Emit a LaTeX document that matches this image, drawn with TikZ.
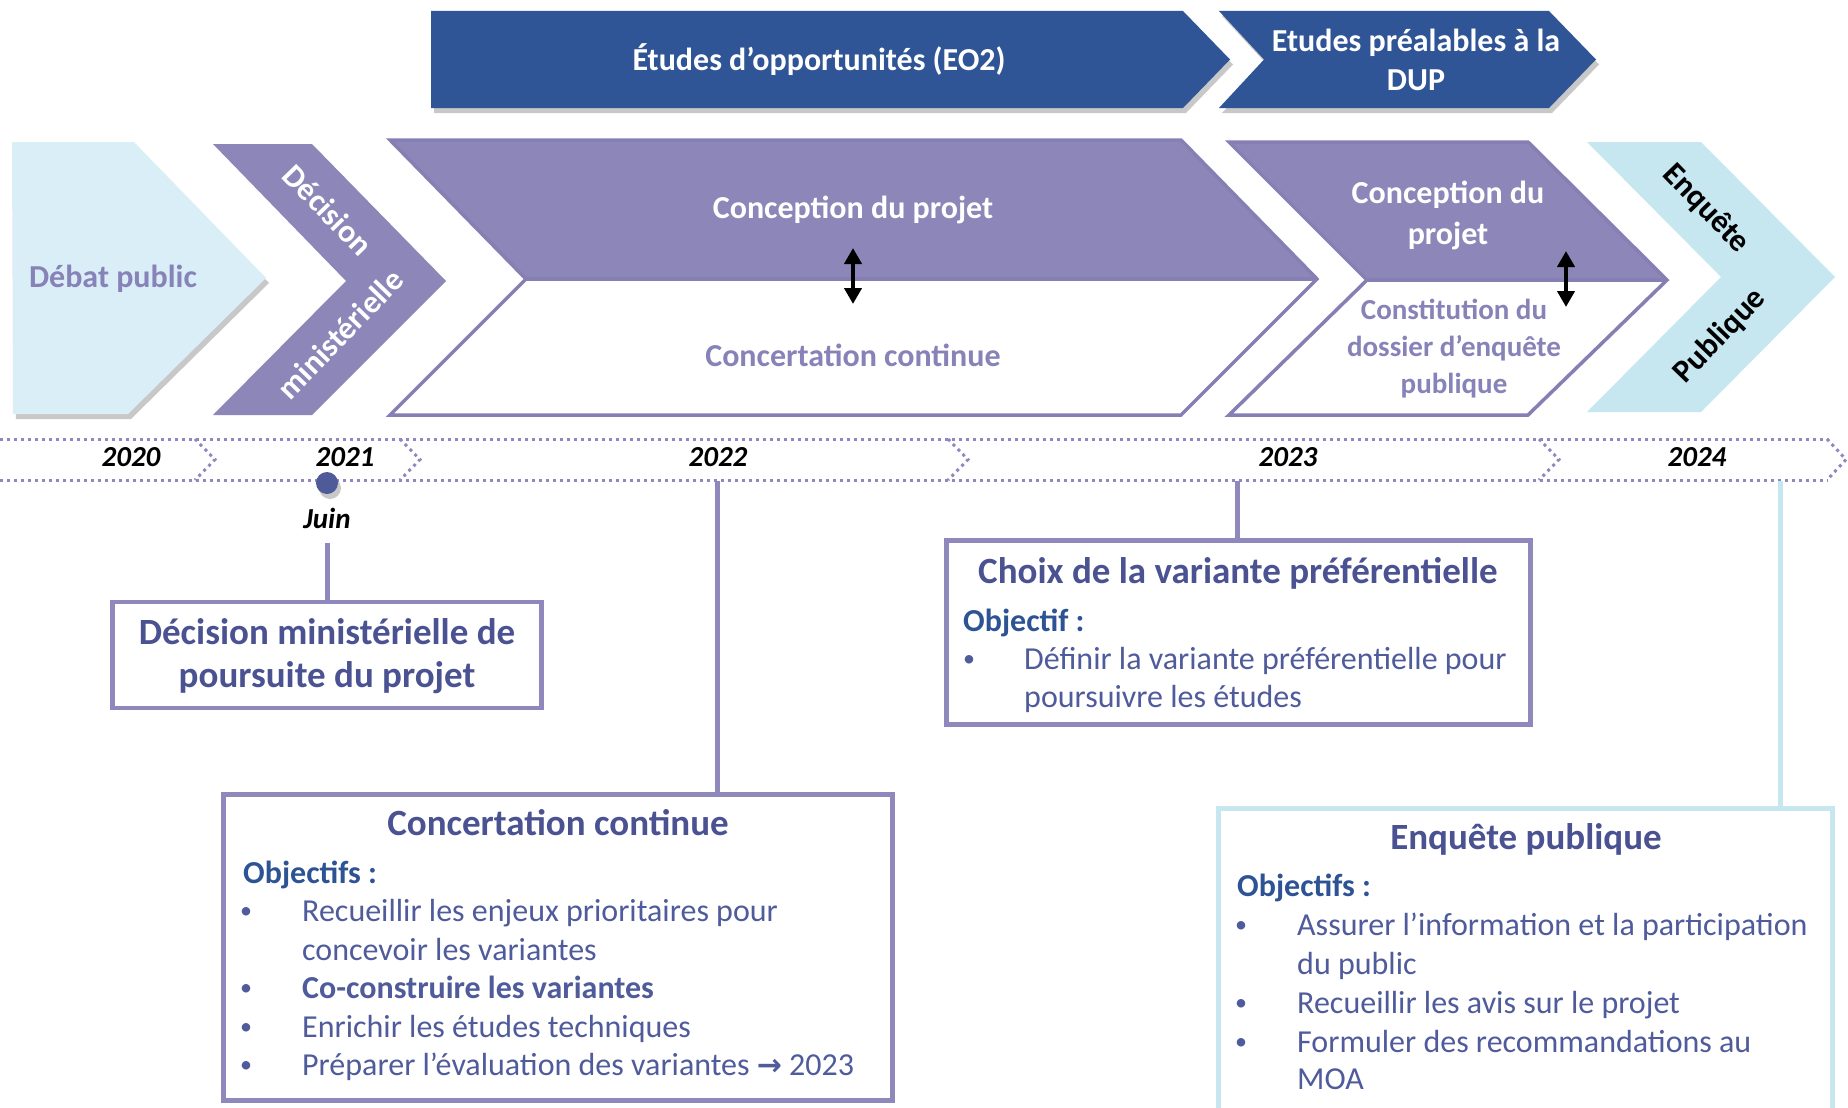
\documentclass[tikz,border=0pt]{standalone}
\usepackage{fontspec}
\setmainfont{Carlito}
\newfontfamily\arrowfont{DejaVu Sans}
\usetikzlibrary{arrows.meta,shadows}

\definecolor{barblue}{HTML}{2F5597}
\definecolor{chevpurple}{HTML}{8D86B9}
\definecolor{chevline}{HTML}{857FB4}
\definecolor{purpletext}{HTML}{8782B8}
\definecolor{debatblue}{HTML}{DAEEF8}
\definecolor{enqblue}{HTML}{C6E7F0}
\definecolor{dotpurple}{HTML}{8F88C0}
\definecolor{boxpurple}{HTML}{8F88BD}
\definecolor{titleblue}{HTML}{4A5292}
\definecolor{bodyblue}{HTML}{4F5B9B}
\definecolor{objblue}{HTML}{2E5395}
\definecolor{dotblue}{HTML}{4F5B98}

\tikzset{
  softshadow/.style={drop shadow={shadow xshift=3pt, shadow yshift=-5pt, opacity=.3, fill=black!70}},
  bartext/.style={text=white, font=\fontsize{32}{39}\selectfont\bfseries, align=center, inner sep=0pt},
  chevtext/.style={font=\fontsize{32}{41}\selectfont\bfseries, align=center, inner sep=0pt},
  smallchevtext/.style={font=\fontsize{29}{37}\selectfont\bfseries, align=center, inner sep=0pt},
  turntext/.style={font=\fontsize{32}{38}\selectfont\bfseries, inner sep=0pt},
  yeartext/.style={font=\fontsize{29}{35}\selectfont\bfseries\itshape, inner sep=0pt},
  dotline/.style={draw=dotpurple, line width=3pt, dash pattern=on 3pt off 4pt},
  updown/.style={line width=4pt, {Triangle[width=17pt,length=16pt]}-{Triangle[width=17pt,length=16pt]}},
  infobox/.style={draw=boxpurple, line width=4.5pt, rectangle, inner sep=0pt},
  link/.style={draw=boxpurple, line width=5pt},
  boxtitle/.style={font=\fontsize{37}{44}\selectfont\bfseries, text=titleblue, anchor=base, inner sep=0pt},
  objlabel/.style={font=\fontsize{32}{39}\selectfont\bfseries, text=objblue, anchor=base west, inner sep=0pt},
  bulletmark/.style={font=\fontsize{24}{30}\selectfont, text=bodyblue, anchor=base, inner sep=0pt, yshift=3pt},
  itemtext/.style={font=\fontsize{32}{39}\selectfont, text=bodyblue, anchor=base west, inner sep=0pt}
}

\begin{document}
\begin{tikzpicture}[x=1pt,y=-1pt]
		%%%%% START %%%%%
		\useasboundingbox[fill=white] (0,0) rectangle (1848,1108);
		
		% bandeaux du haut
		\fill[barblue, softshadow] (431,11) -- (1183,11) -- (1230,59.5) -- (1183,108) -- (431,108) -- cycle;
		\fill[barblue, softshadow] (1219,11) -- (1549,11) -- (1596,59.5) -- (1549,108) -- (1219,108) -- (1264,59.5) -- cycle;
		\node[bartext] (eo2) at (819,60) {Études d’opportunités (EO2)};
		\node[bartext] (dup) at (1416,60) {Etudes préalables à la\\DUP};
		
		% chevrons des phases
		\fill[debatblue, softshadow] (12,142) -- (134,142) -- (266,278) -- (128,414) -- (13,414) -- cycle;
		\node[chevtext, text=purpletext] (debat) at (113,279) {Débat public};
		
		\fill[chevpurple] (213,144) -- (312,144) -- (446,281) -- (312,415) -- (213,415) -- (346,281) -- cycle;
		\node[turntext, text=white, rotate=-46] (decision) at (328,210) {Décision};
		\node[turntext, text=white, rotate=46] (ministerielle) at (340,334) {ministérielle};
		
		\fill[chevpurple] (390,140) -- (1181,140) -- (1317,279) -- (526,279) -- cycle;
		\draw[chevline, line width=3.5pt] (390,140) -- (1181,140) -- (1317,279) -- (1181,415) -- (390,415) -- (526,279) -- cycle;
		\draw[chevline, line width=3.5pt] (526,279) -- (1317,279);
		\node[chevtext, text=white] (conception) at (853,210) {Conception du projet};
		\node[chevtext, text=purpletext] (concertation) at (853,355) {Concertation continue};
		\coordinate (a1top) at (853,248);
		\coordinate (a1bot) at (853,304);
		\draw[updown] (a1top) -- (a1bot);
		
		\fill[chevpurple] (1229,142) -- (1528,142) -- (1667,280) -- (1367,280) -- cycle;
		\draw[chevline, line width=3.5pt] (1229,142) -- (1528,142) -- (1667,280) -- (1528,415) -- (1229,415) -- (1367,280) -- cycle;
		\draw[chevline, line width=3.5pt] (1367,280) -- (1667,280);
		\node[chevtext, text=white] (conception2) at (1448,215) {Conception du\\projet};
		\node[smallchevtext, text=purpletext] (dossier) at (1454,349) {Constitution du\\dossier d’enquête\\publique};
		\coordinate (a2top) at (1566,251);
		\coordinate (a2bot) at (1566,307);
		\draw[updown] (a2top) -- (a2bot);
		
		\fill[enqblue] (1587,142) -- (1701,142) -- (1835,277) -- (1701,412) -- (1587,412) -- (1721,277) -- cycle;
		\node[turntext, rotate=-46] (enquete) at (1706,209) {Enquête};
		\node[turntext, rotate=46] (publique) at (1720,336) {Publique};
		
		% frise des annees
		\draw[dotline] (0,439) -- (1828,439);
		\draw[dotline] (0,480) -- (1828,480);
		\draw[dotline] (195,439) -- (215,459.5) -- (195,480);
		\draw[dotline] (400,439) -- (420,459.5) -- (400,480);
		\draw[dotline] (948,439) -- (968,459.5) -- (948,480);
		\draw[dotline] (1539,439) -- (1559,459.5) -- (1539,480);
		\draw[dotline] (1827,439) -- (1846,459.5) -- (1827,480);
		
		\node[yeartext] (y2020) at (131,457) {2020};
		\node[yeartext] (y2021) at (345,457) {2021};
		\node[yeartext] (y2022) at (718,457) {2022};
		\node[yeartext] (y2023) at (1288,457) {2023};
		\node[yeartext] (y2024) at (1697,457) {2024};
		
		\node[circle, fill=dotblue, minimum size=22pt, inner sep=0pt, softshadow] (juindot) at (327,483) {};
		\node[yeartext] (juin) at (327,518) {Juin};
		
		% encadres
		\node[infobox, minimum width=429pt, minimum height=106pt] (dmbox) at (327,655) {};
		\node[boxtitle] (dmt1) at (327,644) {Décision ministérielle de};
		\node[boxtitle] (dmt2) at (327,687) {poursuite du projet};
		
		\node[infobox, minimum width=669pt, minimum height=306pt] (ccbox) at (558,947.5) {};
		\node[boxtitle] (cct) at (558,835) {Concertation continue};
		\node[objlabel] (cco) at (243,883.5) {Objectifs :};
		\node[bulletmark] (ccb1) at (246,921.5) {•};
		\node[itemtext] (cci1) at (302,921.5) {Recueillir les enjeux prioritaires pour};
		\node[itemtext] (cci1b) at (302,960.5) {concevoir les variantes};
		\node[bulletmark] (ccb2) at (246,998) {•};
		\node[itemtext, font=\fontsize{32}{39}\selectfont\bfseries] (cci2) at (302,998) {Co-construire les variantes};
		\node[bulletmark] (ccb3) at (246,1037) {•};
		\node[itemtext] (cci3) at (302,1037) {Enrichir les études techniques};
		\node[bulletmark] (ccb4) at (246,1075.5) {•};
		\node[itemtext] (cci4) at (302,1075.5) {Préparer l’évaluation des variantes {\arrowfont\bfseries\fontsize{30}{36}\selectfont →} 2023};
		
		\node[infobox, minimum width=584pt, minimum height=184pt] (chbox) at (1238.5,632.5) {};
		\node[boxtitle] (cht) at (1238,583) {Choix de la variante préférentielle};
		\node[objlabel] (cho) at (963,631) {Objectif :};
		\node[bulletmark] (chb1) at (969,669) {•};
		\node[itemtext] (chi1) at (1024,669) {Définir la variante préférentielle pour};
		\node[itemtext] (chi1b) at (1024,707.5) {poursuivre les études};
		
		\node[infobox, draw=enqblue, minimum width=614pt, minimum height=316pt] (epbox) at (1525.5,966.5) {};
		\node[boxtitle] (ept) at (1526,849) {Enquête publique};
		\node[objlabel] (epo) at (1237,896.5) {Objectifs :};
		\node[bulletmark] (epb1) at (1241,935) {•};
		\node[itemtext] (epi1) at (1297,935) {Assurer l’information et la participation};
		\node[itemtext] (epi1b) at (1297,974) {du public};
		\node[bulletmark] (epb2) at (1241,1013) {•};
		\node[itemtext] (epi2) at (1297,1013) {Recueillir les avis sur le projet};
		\node[bulletmark] (epb3) at (1241,1052.5) {•};
		\node[itemtext] (epi3) at (1297,1052.5) {Formuler des recommandations au};
		\node[itemtext] (epi3b) at (1297,1089) {MOA};
		
		% liaisons frise - encadres
		\coordinate (tjuin) at (327,543);
		\coordinate (t2022) at (717,481);
		\coordinate (t2023) at (1237,481);
		\coordinate (t2024) at (1780,481);
		\draw[link] (tjuin) -- (dmbox.north);
		\draw[link] (t2022) -- (t2022 |- ccbox.north);
		\draw[link] (t2023) -- (t2023 |- chbox.north);
		\draw[link, draw=enqblue] (t2024) -- (t2024 |- epbox.north);
		
		%%%%% END %%%%%
	\end{tikzpicture}
\end{document}
